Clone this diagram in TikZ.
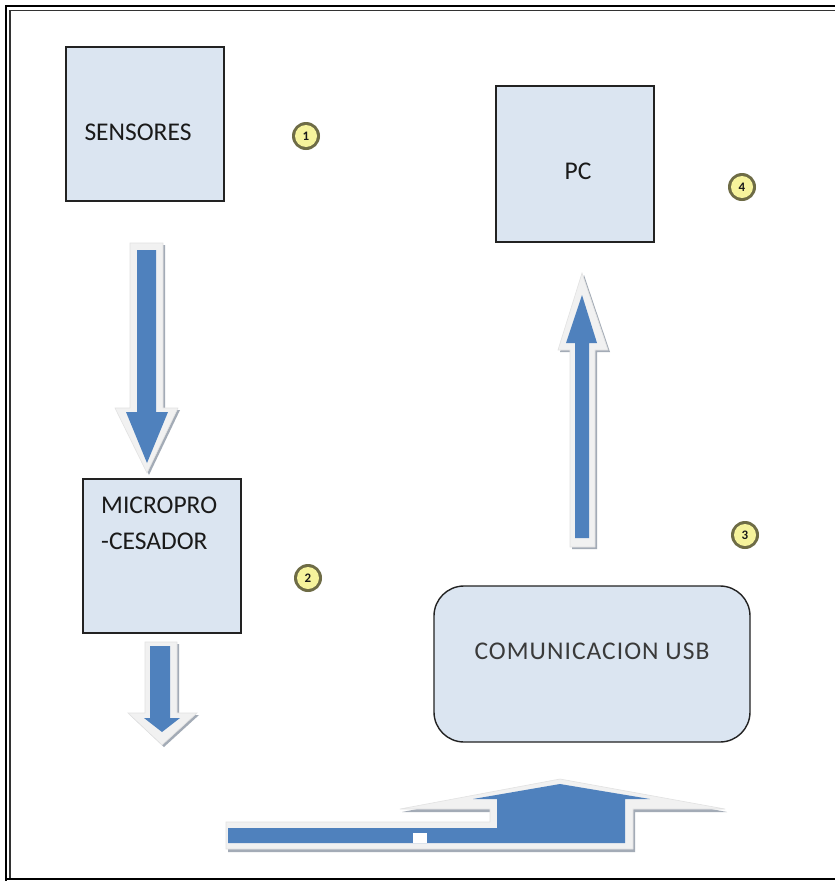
\documentclass[tikz,border=0pt]{standalone}
\usepackage{fontspec}
\setmainfont{Carlito}
\definecolor{boxfill}{HTML}{DBE5F1}
\definecolor{boxline}{HTML}{222222}
\definecolor{arrblue}{HTML}{4F81BD}
\definecolor{arrout}{HTML}{F1F1F1}
\definecolor{arroutline}{HTML}{E2E2E2}
\definecolor{arrshadow}{HTML}{A3ABB6}
\definecolor{ringc}{HTML}{6E6C46}
\definecolor{yellowc}{HTML}{F6F39C}
\definecolor{txtc}{HTML}{1A1A1A}
\definecolor{usbtxt}{HTML}{3A3A3A}
\tikzset{
  blockbox/.style={draw=boxline, line width=1.4pt, fill=boxfill, inner sep=0pt},
  boxtext/.style={font=\fontsize{25.5}{36}\selectfont, text=txtc, inner sep=0pt, anchor=base},
  numring/.style={circle, fill=ringc, minimum size=28pt, inner sep=0pt},
  numdisk/.style={circle, fill=yellowc, minimum size=22pt, inner sep=0pt, font=\fontsize{13}{13}\selectfont\bfseries, text=txtc},
  arrshadowst/.style={fill=arrshadow},
  arroutst/.style={fill=arrout, draw=arroutline, line width=0.6pt},
  arrbluest/.style={fill=arrblue},
  frameouter/.style={line width=2pt, draw=black},
  frameinner/.style={line width=1.1pt, draw=black!80}
}
\begin{document}
\begin{tikzpicture}[x=1pt,y=-1pt]
\useasboundingbox (0,0) rectangle (835,881);
\fill[white] (0,0) rectangle (835,881);
% frame
\draw[frameouter] (835,6) -- (6,6) -- (6,881);
\draw[frameinner] (835,10.5) -- (10,10.5) -- (10,878);
\draw[frameouter] (6,879) -- (835,879);

% boxes
\node[blockbox, minimum width=158pt, minimum height=154pt] (sens) at (145,124) {};
\node[boxtext] (senst) at (138,140) {SENSORES};
\node[blockbox, minimum width=158pt, minimum height=154pt] (micro) at (162,556) {};
\node[boxtext, anchor=base west] (microa) at (101,513) {MICROPRO};
\node[boxtext, anchor=base west] (microb) at (101,549) {-CESADOR};
\node[blockbox, minimum width=158pt, minimum height=156pt] (pc) at (575,164) {};
\node[boxtext] (pct) at (578,179) {PC};
\node[blockbox, rounded corners=30pt, minimum width=316pt, minimum height=156pt] (usb) at (592,664) {};
\node[boxtext, text=usbtxt, font=\fontsize{25.5}{36}\selectfont\addfontfeatures{LetterSpace=4}] (usbt) at (592,659) {COMUNICACION USB};

% numbered markers
\foreach \n/\px/\py in {1/306/136, 2/308/578, 3/745/535, 4/742/187}{
  \node[numring] (ring\n) at (\px,\py) {};
  \node[numdisk] (num\n) at (\px,\py) {\n};
}

% arrow 1 (down, sensores -> micro)
\fill[arrshadowst] (132,245) -- (165,245) -- (165,410) -- (180,410) -- (149,475) -- (117,410) -- (132,410) -- cycle;
\filldraw[arroutst] (130,243) -- (163,243) -- (163,408) -- (178,408) -- (147,473) -- (115,408) -- (130,408) -- cycle;
\fill[arrbluest] (137,250) -- (156,250) -- (156,412) -- (168,412) -- (147,463) -- (126,412) -- (137,412) -- cycle;

% arrow 2 (down, short)
\fill[arrshadowst] (147,644) -- (179,644) -- (179,715) -- (199,715) -- (164,747) -- (130,715) -- (147,715) -- cycle;
\filldraw[arroutst] (145,642) -- (177,642) -- (177,713) -- (197,713) -- (162,745) -- (128,713) -- (145,713) -- cycle;
\fill[arrbluest] (150,646) -- (170,646) -- (170,718) -- (180,718) -- (162,732) -- (144,718) -- (150,718) -- cycle;

% arrow 3 (up, usb -> pc)
\fill[arrshadowst] (572,549) -- (597,549) -- (597,352) -- (610,352) -- (584,275) -- (560,352) -- (572,352) -- cycle;
\filldraw[arroutst] (570,547) -- (595,547) -- (595,350) -- (608,350) -- (582,273) -- (558,350) -- (570,350) -- cycle;
\fill[arrbluest] (575,538) -- (589,538) -- (589,343) -- (597,343) -- (582,295) -- (566,343) -- (575,343) -- cycle;

% arrow 4 (bent-up arrow at bottom)
\fill[arrshadowst] (228,824) -- (492,824) -- (492,812) -- (402,812) -- (562,781) -- (727,812) -- (635,812) -- (635,852) -- (228,852) -- cycle;
\filldraw[arroutst] (226,822) -- (490,822) -- (490,809) -- (400,809) -- (560,779) -- (725,809) -- (633,809) -- (633,849) -- (226,849) -- cycle;
\fill[arrbluest] (228,828) -- (497,828) -- (497,799) -- (473,799) -- (560,784) -- (650,799) -- (625,799) -- (625,843) -- (228,843) -- cycle;
\fill[white] (413,833) rectangle (427,843);
\end{tikzpicture}
\end{document}
